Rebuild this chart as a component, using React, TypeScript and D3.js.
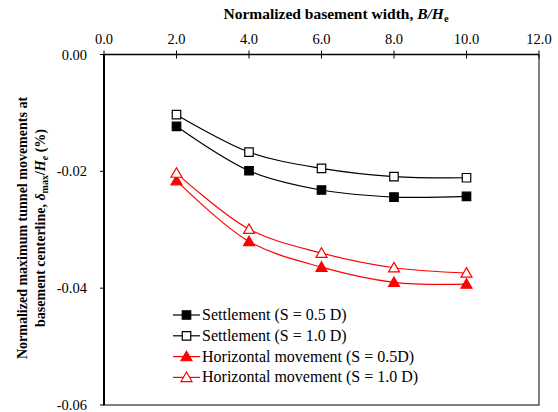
import React, { useEffect, useRef } from 'react';
import * as d3 from 'd3';

const xTicks = [0, 2, 4, 6, 8, 10, 12];
const yTicks = [0, -0.02, -0.04, -0.06];
const basementWidth = [2, 4, 6, 8, 10];
const settlement05 = [-0.0123, -0.0199, -0.0232, -0.0244, -0.0243];
const settlement10 = [-0.0103, -0.0167, -0.0195, -0.0209, -0.0211];
const horizontal05 = [-0.0216, -0.032, -0.0364, -0.039, -0.0393];
const horizontal10 = [-0.0203, -0.0299, -0.034, -0.0365, -0.0374];

const seriesNames = [
  'Settlement (S = 0.5 D)',
  'Settlement (S = 1.0 D)',
  'Horizontal movement (S = 0.5D)',
  'Horizontal movement (S = 1.0 D)'
];

const series = [
  { name: seriesNames[0], values: settlement05, color: '#000000', shape: 'square', filled: true },
  { name: seriesNames[1], values: settlement10, color: '#000000', shape: 'square', filled: false },
  { name: seriesNames[2], values: horizontal05, color: '#ff0000', shape: 'triangle', filled: true },
  { name: seriesNames[3], values: horizontal10, color: '#ff0000', shape: 'triangle', filled: false }
];

const FONT = '"Liberation Serif", "Times New Roman", serif';

export default function App() {
  const svgRef = useRef<SVGSVGElement | null>(null);

  useEffect(() => {
    document.body.style.margin = '0';
    if (!svgRef.current) return;
    const svg = d3.select(svgRef.current);
    svg.selectAll('*').remove();

    const x = d3.scaleLinear().domain([0, 12]).range([104, 539]);
    const y = d3.scaleLinear().domain([0, -0.06]).range([54.5, 405]);

    const symbolPath = (shape: string) =>
      shape === 'square'
        ? d3.symbol().type(d3.symbolSquare).size(72)()
        : d3.symbol().type(d3.symbolTriangle).size(52)();

    // frame
    svg.append('rect')
      .attr('x', x(0)).attr('y', y(0))
      .attr('width', x(12) - x(0)).attr('height', y(-0.06) - y(0))
      .attr('fill', 'none').attr('stroke', '#000').attr('stroke-width', 1);

    // top axis (ticks cross the line)
    const xAxis = svg.append('g').attr('transform', `translate(0,${y(0)})`);
    xAxis.append('line')
      .attr('x1', x(0)).attr('x2', x(12))
      .attr('stroke', '#000').attr('stroke-width', 1.4);
    xAxis.selectAll('line.tick')
      .data(xTicks)
      .join('line')
      .attr('class', 'tick')
      .attr('x1', d => x(d)).attr('x2', d => x(d))
      .attr('y1', -4).attr('y2', 4)
      .attr('stroke', '#000').attr('stroke-width', 1);
    xAxis.selectAll('text')
      .data(xTicks)
      .join('text')
      .attr('x', d => x(d))
      .attr('y', -11)
      .attr('text-anchor', 'middle')
      .style('font-family', FONT)
      .style('font-size', '14.5px')
      .text(d => d.toFixed(1));

    // left axis
    const yAxis = svg.append('g').attr('transform', `translate(${x(0)},0)`);
    yAxis.append('line')
      .attr('y1', y(0)).attr('y2', y(-0.06))
      .attr('stroke', '#000').attr('stroke-width', 2);
    yAxis.selectAll('line.tick')
      .data(yTicks)
      .join('line')
      .attr('class', 'tick')
      .attr('x1', -4).attr('x2', 0)
      .attr('y1', d => y(d)).attr('y2', d => y(d))
      .attr('stroke', '#000').attr('stroke-width', 1);
    yAxis.selectAll('text')
      .data(yTicks)
      .join('text')
      .attr('x', -17)
      .attr('y', d => y(d) + 5)
      .attr('text-anchor', 'end')
      .style('font-family', FONT)
      .style('font-size', '14.5px')
      .text(d => d.toFixed(2));

    // x title
    const xt = svg.append('text')
      .attr('x', 336).attr('y', 19)
      .attr('text-anchor', 'middle')
      .style('font-family', FONT)
      .style('font-size', '15.5px')
      .style('font-weight', 'bold');
    xt.append('tspan').text('Normalized basement width, ');
    xt.append('tspan').style('font-style', 'italic').text('B/H');
    xt.append('tspan').attr('dy', 3).style('font-size', '10.5px').text('e');

    // y title
    const yt = svg.append('g').attr('transform', 'translate(22,228) rotate(-90)');
    yt.append('text')
      .attr('x', 0).attr('y', 5)
      .attr('text-anchor', 'middle')
      .style('font-family', FONT)
      .style('font-size', '14px')
      .style('font-weight', 'bold')
      .text('Normalized maximum tunnel movements at');
    const yt2 = yt.append('text')
      .attr('x', 0).attr('y', 23)
      .attr('text-anchor', 'middle')
      .style('font-family', FONT)
      .style('font-size', '14px')
      .style('font-weight', 'bold');
    yt2.append('tspan').text('basement centerline, ');
    yt2.append('tspan').style('font-style', 'italic').text('δ');
    yt2.append('tspan').attr('dy', 3).style('font-size', '10px').text('max');
    yt2.append('tspan').attr('dy', -3).text('/');
    yt2.append('tspan').style('font-style', 'italic').text('H');
    yt2.append('tspan').attr('dy', 3).style('font-size', '10px').style('font-style', 'italic').text('e');
    yt2.append('tspan').attr('dy', -3).text(' (%)');

    // series
    const line = d3.line<number>()
      .x((_, i) => x(basementWidth[i]))
      .y(d => y(d))
      .curve(d3.curveCatmullRom.alpha(0.5));

    series.forEach(s => {
      svg.append('path')
        .datum(s.values)
        .attr('fill', 'none')
        .attr('stroke', s.color)
        .attr('stroke-width', 1.2)
        .attr('d', line);

      svg.append('g')
        .selectAll('path')
        .data(s.values)
        .join('path')
        .attr('transform', (d, i) => `translate(${x(basementWidth[i])},${y(d) + (s.shape === 'triangle' ? 1 : 0)})`)
        .attr('d', symbolPath(s.shape))
        .attr('fill', s.filled ? s.color : '#fff')
        .attr('stroke', s.color)
        .attr('stroke-width', 1.2);
    });

    // legend
    const legend = svg.append('g').attr('transform', 'translate(173,315)');
    series.forEach((s, i) => {
      const row = legend.append('g').attr('transform', `translate(0,${i * 20.8})`);
      row.append('line')
        .attr('x1', 0).attr('x2', 27)
        .attr('stroke', s.color).attr('stroke-width', 1.2);
      row.append('path')
        .attr('transform', `translate(13.5,${s.shape === 'triangle' ? 1 : 0})`)
        .attr('d', symbolPath(s.shape))
        .attr('fill', s.filled ? s.color : '#fff')
        .attr('stroke', s.color)
        .attr('stroke-width', 1.2);
      row.append('text')
        .attr('x', 29).attr('y', 5)
        .style('font-family', FONT)
        .style('font-size', '16px')
        .text(s.name);
    });
  }, []);

  return (
    <svg
      ref={svgRef}
      width={558}
      height={412}
      style={{ display: 'block', background: '#fff' }}
    />
  );
}
